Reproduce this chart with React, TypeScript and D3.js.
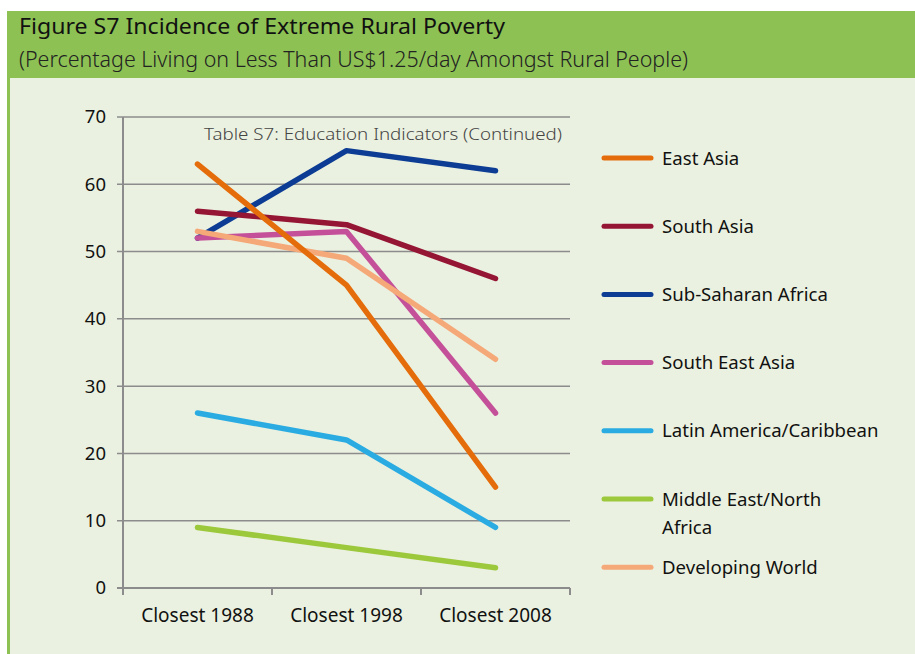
import * as d3 from 'd3'
import { useMemo } from 'react'

const categories = ['Closest 1988', 'Closest 1998', 'Closest 2008']
const yTicks = [0, 10, 20, 30, 40, 50, 60, 70]

const seriesNames = [
    'East Asia',
    'South Asia',
    'Sub-Saharan Africa',
    'South East Asia',
    'Latin America/Caribbean',
    'Middle East/North Africa',
    'Developing World'
]
const eastAsia = [63, 45, 15]
const southAsia = [56, 54, 46]
const subSaharan = [52, 65, 62]
const southEastAsia = [52, 53, 26]
const latinAmerica = [26, 22, 9]
const middleEast = [9, 6, 3]
const developingWorld = [53, 49, 34]
const seriesColours = ['#e46c0a', '#951534', '#0c3c94', '#c5509a', '#2aace2', '#9cc83c', '#f5a878']

const FONT = '"Noto Sans", "Open Sans", sans-serif'

const App = () => {
    const svgWidth = 915
    const svgHeight = 654
    const plot = { left: 123, right: 570, top: 117, bottom: 588 }

    const series = useMemo(() => {
        const values = [eastAsia, southAsia, subSaharan, southEastAsia, latinAmerica, middleEast, developingWorld]
        return seriesNames.map((name, i) => ({ name, values: values[i], colour: seriesColours[i] }))
    }, [])

    const x = d3.scaleBand().domain(categories).range([plot.left, plot.right])
    const y = d3.scaleLinear().domain([0, 70]).range([plot.bottom, plot.top])
    const cx = (c: string) => (x(c) as number) + x.bandwidth() / 2

    const line = d3.line<number>()
        .x((_, i) => cx(categories[i]))
        .y(d => y(d))

    // draw order so the picture layers the way the reference does
    const drawOrder = [5, 4, 2, 3, 6, 1, 0]

    const legendTop = 158
    const legendStep = 68.2

    return (
        <svg width={svgWidth} height={svgHeight} style={{ position: 'fixed', left: 0, top: 0 }}>
            <rect x={0} y={0} width={svgWidth} height={svgHeight} fill='#ffffff' />
            <rect x={7} y={11} width={svgWidth - 7} height={67} fill='#8dc154' />
            <rect x={7} y={78} width={svgWidth - 7} height={svgHeight - 78} fill='#ebf1e0' />
            <rect x={7} y={78} width={3} height={svgHeight - 78} fill='#8dc154' />
            <text x={19} y={34} fontFamily={FONT} fontSize={21} fill='#111' textLength={486} lengthAdjust='spacingAndGlyphs'>
                Figure S7 Incidence of Extreme Rural Poverty
            </text>
            <text x={19} y={67} fontFamily={FONT} fontSize={21} fill='#222' fontWeight={300} textLength={669} lengthAdjust='spacingAndGlyphs'>
                (Percentage Living on Less Than US$1.25/day Amongst Rural People)
            </text>

            {/* grid and y axis */}
            {yTicks.map(t => (
                <g key={t}>
                    <line x1={plot.left - 6} x2={plot.right} y1={y(t)} y2={y(t)}
                        stroke='#8c8c8c' strokeWidth={t === 0 ? 2 : 1.5} />
                    <text x={106} y={y(t)} dy='0.35em' textAnchor='end' fontFamily={FONT} fontSize={18.5} fill='#111'>
                        {t}
                    </text>
                </g>
            ))}
            <line x1={plot.left} x2={plot.left} y1={plot.top} y2={plot.bottom + 7} stroke='#8c8c8c' strokeWidth={2} />
            {[...categories.map(c => x(c) as number), plot.right].map((v, i) => (
                <line key={i} x1={v} x2={v} y1={plot.bottom} y2={plot.bottom + 7} stroke='#8c8c8c' strokeWidth={2} />
            ))}
            {categories.map(c => (
                <text key={c} x={cx(c)} y={622} textAnchor='middle' fontFamily={FONT} fontSize={19} fill='#111'>
                    {c}
                </text>
            ))}

            <text x={204} y={140} fontFamily={FONT} fontSize={16.5} fill='#444' fontWeight={300} textLength={358} lengthAdjust='spacingAndGlyphs'>
                Table S7: Education Indicators (Continued)
            </text>

            {drawOrder.map(i => (
                <path key={series[i].name} d={line(series[i].values) as string} fill='none'
                    stroke={series[i].colour} strokeWidth={5.5} strokeLinecap='round' strokeLinejoin='round' />
            ))}

            {/* legend */}
            {series.map((s, i) => {
                const ly = legendTop + i * legendStep
                const words = s.name === 'Middle East/North Africa' ? ['Middle East/North', 'Africa'] : [s.name]
                return (
                    <g key={s.name}>
                        <line x1={604} x2={651} y1={ly} y2={ly} stroke={s.colour} strokeWidth={5} strokeLinecap='round' />
                        {words.map((w, j) => (
                            <text key={j} x={662} y={ly + j * 28} dy='0.35em' fontFamily={FONT} fontSize={18.6} fill='#111'>
                                {w}
                            </text>
                        ))}
                    </g>
                )
            })}
        </svg>
    )
}

export default App
